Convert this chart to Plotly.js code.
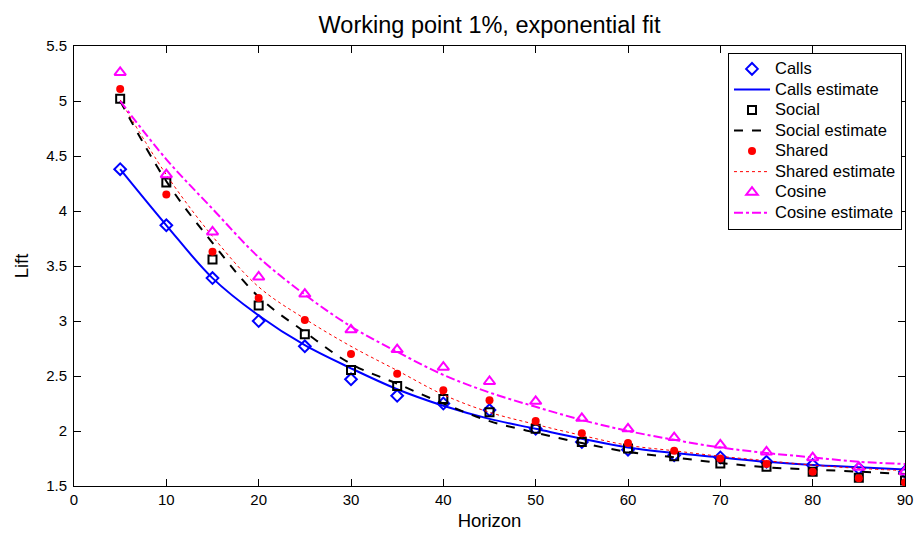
<!DOCTYPE html>
<html>
<head>
<meta charset="utf-8">
<script src="https://cdn.plot.ly/plotly-3.0.1.min.js"></script>
<style>html,body{margin:0;padding:0;background:#fff;}#chart{width:915px;height:534px;}</style>
</head>
<body>
<div id="chart"></div>
<script>
const horizon = [5,10,15,20,25,30,35,40,45,50,55,60,65,70,75,80,85,90];

const calls         = [4.38,3.87,3.39,3.00,2.77,2.47,2.32,2.25,2.19,2.02,1.90,1.83,1.78,1.76,1.72,1.69,1.66,1.63];
const callsEst      = [4.38,3.87,3.39,3.05,2.78,2.57,2.38,2.23,2.11,2.02,1.93,1.85,1.80,1.76,1.72,1.69,1.67,1.65];
const social        = [5.02,4.26,3.56,3.14,2.88,2.555,2.41,2.29,2.17,2.02,1.90,1.84,1.77,1.705,1.675,1.63,1.575,1.55];
const socialEst     = [5.00,4.27,3.71,3.22,2.90,2.61,2.43,2.25,2.09,1.985,1.89,1.81,1.76,1.71,1.67,1.65,1.63,1.61];
const shared        = [5.11,4.15,3.63,3.21,3.01,2.70,2.52,2.37,2.28,2.09,1.98,1.89,1.82,1.75,1.70,1.63,1.57,1.535];
const sharedEst     = [5.01,4.33,3.77,3.31,3.02,2.77,2.55,2.33,2.17,2.06,1.96,1.87,1.82,1.77,1.73,1.69,1.66,1.64];
const cosine        = [5.26,4.33,3.81,3.40,3.245,2.92,2.74,2.58,2.45,2.27,2.115,2.02,1.94,1.873,1.81,1.757,1.67,1.63];
const cosineEst     = [5.00,4.47,4.02,3.58,3.24,2.95,2.72,2.51,2.35,2.22,2.10,2.00,1.92,1.85,1.80,1.76,1.72,1.70];

const seriesNames = ['Calls','Calls estimate','Social','Social estimate','Shared','Shared estimate','Cosine','Cosine estimate'];
const xTicks = [0,10,20,30,40,50,60,70,80,90];
const yTicks = [1.5,2,2.5,3,3.5,4,4.5,5,5.5];
const yTickText = ['1.5','2','2.5','3','3.5','4','4.5','5','5.5'];

const lg = n => '<span style="font-size:16.5px">' + n + '</span>';

const traces = [
  {x: horizon, y: calls, name: lg(seriesNames[0]), mode: 'markers', type: 'scatter',
   marker: {symbol: 'diamond-open', size: 9, color: '#0000ff', line: {width: 2, color: '#0000ff'}}},
  {x: horizon, y: callsEst, name: lg(seriesNames[1]), mode: 'lines', type: 'scatter',
   line: {color: '#0000ff', width: 2, shape: 'spline'}},
  {x: horizon, y: social, name: lg(seriesNames[2]), mode: 'markers', type: 'scatter',
   marker: {symbol: 'square-open', size: 8, color: '#000000', line: {width: 2, color: '#000000'}}},
  {x: horizon, y: socialEst, name: lg(seriesNames[3]), mode: 'lines', type: 'scatter',
   line: {color: '#000000', width: 2, dash: 'dash', shape: 'spline'}},
  {x: horizon, y: shared, name: lg(seriesNames[4]), mode: 'markers', type: 'scatter',
   marker: {symbol: 'circle', size: 8, color: '#ff0000'}},
  {x: horizon, y: sharedEst, name: lg(seriesNames[5]), mode: 'lines', type: 'scatter',
   line: {color: '#ff0000', width: 1, dash: 'dot', shape: 'spline'}},
  {x: horizon, y: cosine, name: lg(seriesNames[6]), mode: 'markers', type: 'scatter',
   marker: {symbol: 'triangle-up-open', size: 10, color: '#ff00ff', line: {width: 2, color: '#ff00ff'}}},
  {x: horizon, y: cosineEst, name: lg(seriesNames[7]), mode: 'lines', type: 'scatter',
   line: {color: '#ff00ff', width: 2, dash: 'dashdot', shape: 'spline'}}
];

const font = 'Liberation Sans, Arial, Helvetica, sans-serif';
const layout = {
  width: 915, height: 534,
  margin: {l: 74, r: 10, t: 46, b: 48},
  paper_bgcolor: '#ffffff', plot_bgcolor: '#ffffff',
  font: {family: font, size: 15, color: '#000'},
  title: {text: 'Working point 1%, exponential fit', font: {family: font, size: 23.5, color: '#000'},
          x: 0.535, xanchor: 'center', y: 0.953, yanchor: 'middle'},
  xaxis: {range: [0, 90], tickvals: xTicks, ticks: 'inside', ticklen: 7, tickcolor: '#000',
          showline: true, linecolor: '#000', linewidth: 1, mirror: 'ticks', showgrid: false, zeroline: false,
          tickfont: {family: font, size: 15},
          title: {text: 'Horizon', font: {family: font, size: 18.5}, standoff: 7}},
  yaxis: {range: [1.5, 5.5], tickvals: yTicks, ticktext: yTickText, ticks: 'inside', ticklen: 7, tickcolor: '#000',
          showline: true, linecolor: '#000', linewidth: 1, mirror: 'ticks', showgrid: false, zeroline: false,
          tickfont: {family: font, size: 15}, ticklabelstandoff: 3,
          title: {text: 'Lift', font: {family: font, size: 18.5}, standoff: 12}},
  showlegend: true,
  legend: {x: 0.787, y: 0.985, xanchor: 'left', yanchor: 'top', bgcolor: '#fff',
           bordercolor: '#000', borderwidth: 1, font: {family: font, size: 13.5, color: '#000'},
           tracegroupgap: 0, itemwidth: 36}
};

Plotly.newPlot('chart', traces, layout, {displayModeBar: false, staticPlot: true});
</script>
</body>
</html>
